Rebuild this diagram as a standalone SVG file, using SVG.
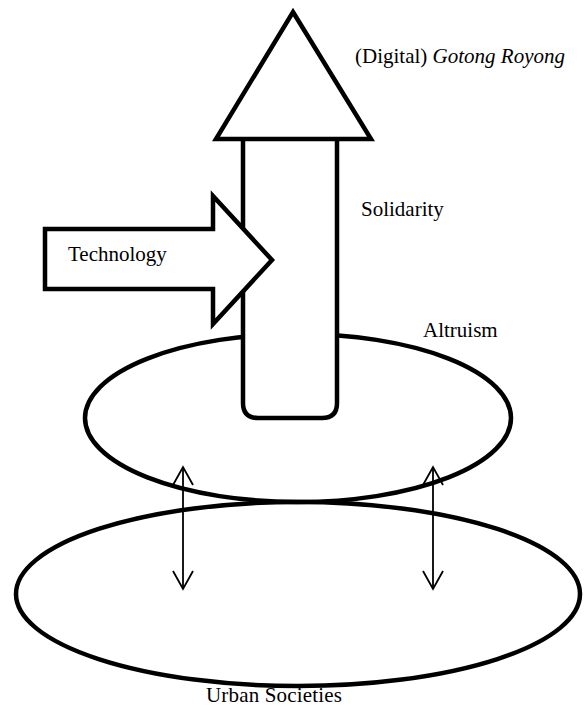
<svg xmlns="http://www.w3.org/2000/svg" width="585" height="709" viewBox="0 0 585 709">
<style>
.shape{fill:#fff;stroke:#000;stroke-width:4.5;stroke-linejoin:miter}
.ring{fill:none;stroke:#000;stroke-width:4.5}
.conn{fill:none;stroke:#000;stroke-width:1.8}
.lbl{font-family:"Liberation Serif","Times New Roman",serif;font-size:21px;fill:#000}
</style>
<defs>
<marker id="chev" viewBox="-20 -11 22 22" markerWidth="22" markerHeight="22" refX="0" refY="0" orient="auto-start-reverse" markerUnits="userSpaceOnUse">
<path d="M-18,-10 L0,0 L-18,10" fill="none" stroke="#000" stroke-width="1.8"/>
</marker>
</defs>
<rect width="585" height="709" fill="#fff"/>
<g id="urban">
<ellipse class="ring" cx="298" cy="594" rx="282" ry="92"/>
<text class="lbl" x="206" y="702" textLength="136">Urban Societies</text>
</g>
<g id="altruism">
<ellipse class="ring" cx="298" cy="418" rx="213" ry="84"/>
<text class="lbl" x="423" y="337">Altruism</text>
</g>
<g id="solidarity">
<path class="shape" d="M243,140 L243,403 Q243,418 258,418 L322,418 Q337,418 337,403 L337,140"/>
<text class="lbl" x="361" y="216">Solidarity</text>
</g>
<g id="gotong-royong">
<polygon class="shape" points="293,12 371,139 216,139"/>
<text class="lbl" x="355" y="63">(Digital) <tspan font-style="italic">Gotong Royong</tspan></text>
</g>
<g id="technology">
<polygon class="shape" points="45,229 213,229 213,196 272,260 213,324 213,289 45,289"/>
<text class="lbl" x="68" y="261">Technology</text>
</g>
<g id="connectors">
<line class="conn" x1="183" y1="467" x2="183" y2="589" marker-start="url(#chev)" marker-end="url(#chev)"/>
<line class="conn" x1="433" y1="467" x2="433" y2="589" marker-start="url(#chev)" marker-end="url(#chev)"/>
</g>
</svg>
